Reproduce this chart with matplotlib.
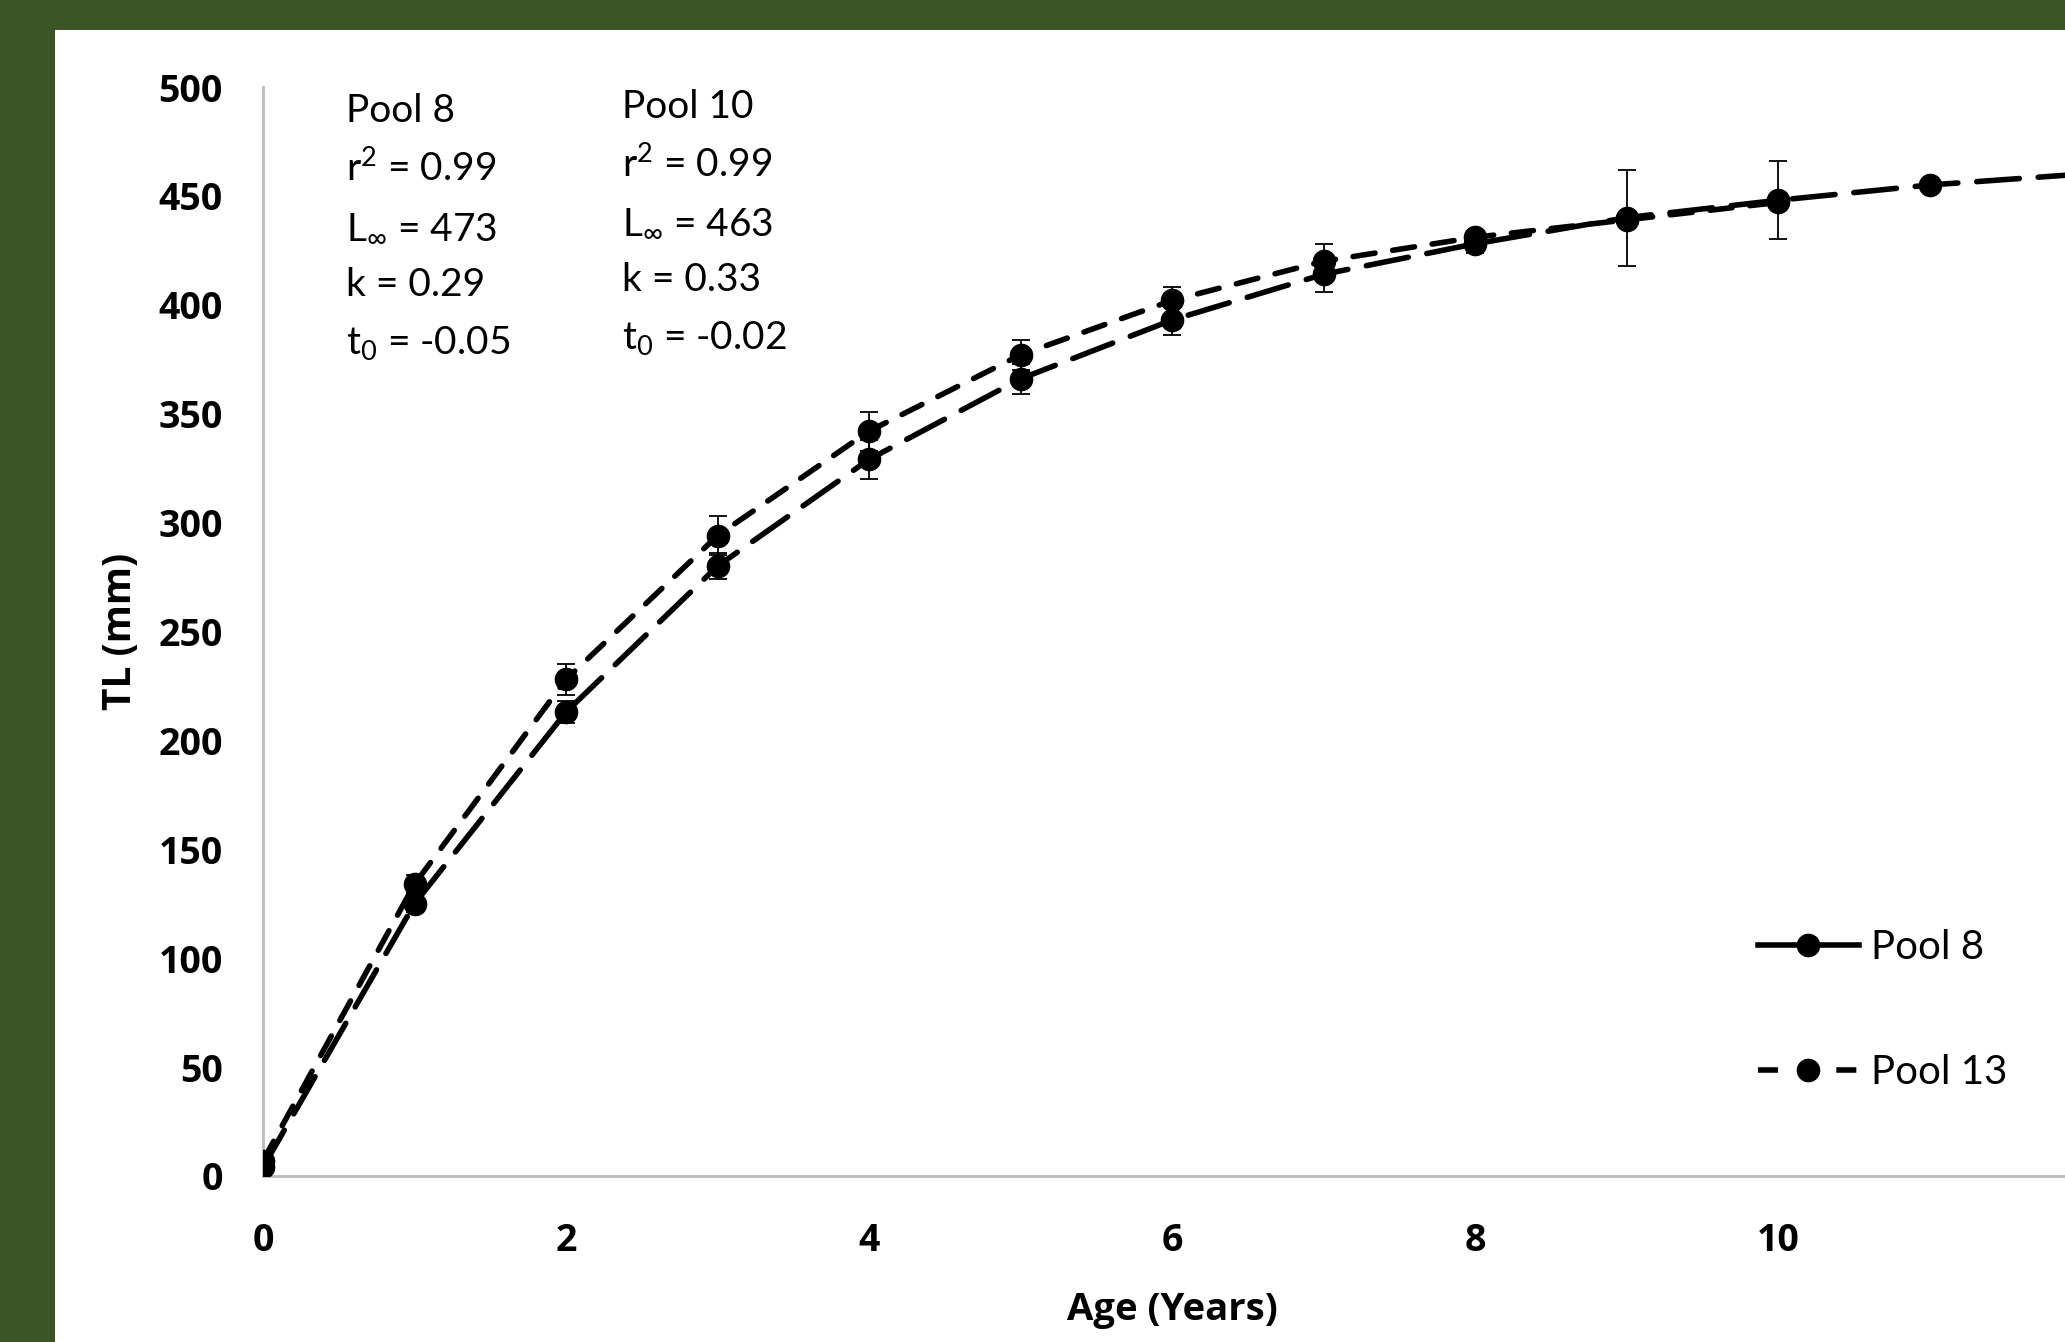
import matplotlib
matplotlib.use("Agg")
import matplotlib.pyplot as plt
from matplotlib.lines import Line2D

# mean TL at age
ages_a = [0, 1, 2, 3, 4, 5, 6, 7, 8, 9, 10, 11, 12]
tl_a = [4, 125, 213, 280, 329, 366, 393, 414, 428, 440, 448, 455, 460]
err_a = [2, 4, 5, 6, 9, 7, 7, 8, 4, 22, 18, 0, 0]

ages_b = [0, 1, 2, 3, 4, 5, 6, 7, 8, 9, 10]
tl_b = [7, 134, 228, 294, 342, 377, 402, 420, 431, 439, 447]
err_b = [2, 4, 7, 9, 9, 7, 6, 8, 3, 0, 0]

legend_labels = ["Pool 8", "Pool 13"]
yticks = [0, 50, 100, 150, 200, 250, 300, 350, 400, 450, 500]
xticks = [0, 2, 4, 6, 8, 10]

block_1 = ["Pool 8", r"r$^{\mathregular{2}}$ = 0.99", r"L$_{\mathregular{\infty}}$ = 473",
           "k = 0.29", r"t$_{\mathregular{0}}$ = -0.05"]
block_2 = ["Pool 10", r"r$^{\mathregular{2}}$ = 0.99", r"L$_{\mathregular{\infty}}$ = 463",
           "k = 0.33", r"t$_{\mathregular{0}}$ = -0.02"]

plt.rcParams["mathtext.fontset"] = "custom"
plt.rcParams["mathtext.rm"] = "Lato"
plt.rcParams["mathtext.it"] = "Lato"

W, H = 2065, 1342
fig = plt.figure(figsize=(W / 100, H / 100), dpi=100, facecolor="#3B5526")
# white panel behind the chart
fig.patches.append(plt.Rectangle((55 / W, 0), 1, 1 - 30 / H, transform=fig.transFigure,
                                 facecolor="white", edgecolor="none", zorder=-1))

x0, y0 = 263, 1176
px_per_year = 151.5
xmax = 14
ax = fig.add_axes([x0 / W, 1 - y0 / H, xmax * px_per_year / W, (y0 - 87) / H])
ax.set_facecolor("none")
ax.set_zorder(2)

ax.errorbar(ages_a, tl_a, yerr=err_a, color="black", lw=4, ls=(0, (7.7, 3.4)),
            dash_capstyle="round", marker="o", ms=16, ecolor="black",
            elinewidth=1.3, capsize=6.5, capthick=1.3, zorder=3)
ax.errorbar(ages_b, tl_b, yerr=err_b, color="black", lw=4, ls=(0, (4.0, 3.2)),
            dash_capstyle="round", marker="o", ms=16, ecolor="black",
            elinewidth=1.3, capsize=6.5, capthick=1.3, zorder=3)

ax.set_xlim(0, xmax)
ax.set_ylim(0, 500)
ax.set_xticks(xticks)
ax.set_yticks(yticks)
for s in ["top", "right"]:
    ax.spines[s].set_visible(False)
for s in ["left", "bottom"]:
    ax.spines[s].set_color("#BFBFBF")
    ax.spines[s].set_linewidth(2.2)
ax.tick_params(length=0)
ax.tick_params(axis="y", pad=29)
ax.tick_params(axis="x", pad=33)
for lab in ax.get_xticklabels() + ax.get_yticklabels():
    lab.set_fontfamily("Open Sans")
    lab.set_fontweight("bold")
    lab.set_fontsize(27)

ax.set_xlabel("Age (Years)", fontfamily="Open Sans", fontweight="bold", fontsize=27.5)
ax.set_ylabel("TL (mm)", fontfamily="Open Sans", fontweight="bold", fontsize=28)
ax.xaxis.set_label_coords(6.0 / xmax, -0.123)
ax.yaxis.set_label_coords(-0.067, 0.5)
ax.xaxis.label.set_va("center")
ax.yaxis.label.set_va("center")

# fit parameters
for i, line in enumerate(block_1):
    ax.text(0.545, 489 - i * 26.6, line, fontfamily="Lato", fontsize=28,
            ha="left", va="center")
for i, line in enumerate(block_2):
    ax.text(2.37, 491 - i * 26.6, line, fontfamily="Lato", fontsize=28,
            ha="left", va="center")

handles = [Line2D([], [], color="black", lw=4, marker="o", ms=16),
           Line2D([], [], color="black", lw=4, marker="o", ms=16, ls=(0, (3.6, 10.5)))]
ax.legend(handles, legend_labels, loc="center left",
          bbox_to_anchor=(1758 / W, 1 - 1010 / H), bbox_transform=fig.transFigure,
          frameon=False, prop={"family": "Lato", "size": 29}, handlelength=2.5,
          handletextpad=0.3, labelspacing=2.2, borderpad=0, borderaxespad=0)

fig.savefig("out.png", dpi=100, facecolor=fig.get_facecolor())
